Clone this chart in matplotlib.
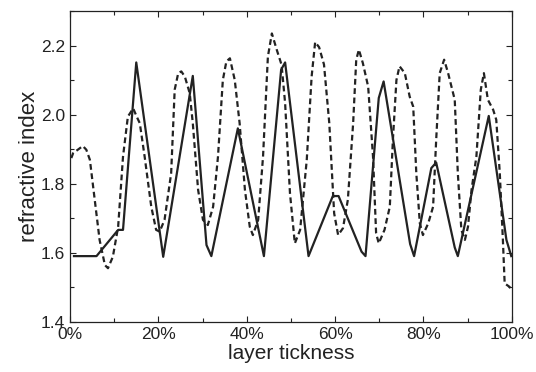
import matplotlib
matplotlib.use('Agg')
import matplotlib.pyplot as plt
from matplotlib.ticker import MultipleLocator, PercentFormatter

# solid line: layer position (%) and refractive index
x_solid = [0.9, 6.0, 10.9, 12.0, 15.0, 21.1, 27.8, 30.9, 32.0, 38.0, 43.9, 47.8, 48.7,
           54.0, 59.5, 60.8, 66.0, 66.9, 69.9, 71.0, 77.0, 77.9, 81.8, 82.9, 87.1, 87.8,
           94.8, 98.8, 99.9]
n_solid = [1.59, 1.59, 1.666, 1.666, 2.151, 1.588, 2.112, 1.622, 1.59, 1.96, 1.59, 2.13, 2.151,
           1.59, 1.764, 1.764, 1.603, 1.59, 2.048, 2.096, 1.625, 1.59, 1.845, 1.861, 1.615, 1.59,
           1.996, 1.637, 1.59]

# dashed line
x_dash = [0.3, 0.7, 2.9, 3.7, 4.5, 5.6, 6.7, 7.9, 8.6, 9.7, 10.9, 12.0, 13.1, 14.3, 15.1,
          15.8, 16.9, 18.4, 19.5, 20.3, 21.4, 22.9, 23.7, 24.5, 25.2, 26.0, 27.1, 27.8,
          29.0, 30.1, 31.2, 32.4, 33.5, 34.6, 35.4, 36.2, 37.3, 38.4, 39.6, 40.7, 41.4,
          42.6, 43.7, 44.8, 45.7, 46.8, 47.9, 48.7, 49.8, 50.9, 52.1, 53.6, 54.7, 55.5,
          56.4, 57.5, 58.7, 59.8, 60.7, 61.8, 62.9, 64.1, 64.8, 65.4, 66.3, 67.5, 68.6,
          69.3, 69.9, 71.2, 72.4, 73.1, 73.9, 74.6, 75.8, 76.9, 77.7, 78.4, 79.2, 79.9,
          81.1, 82.2, 82.9, 83.7, 84.7, 85.6, 87.1, 87.8, 88.6, 89.4, 90.1, 90.9, 92.0,
          93.0, 93.7, 94.6, 95.8, 96.5, 97.3, 98.0, 98.4, 99.5, 100.0]
n_dash = [1.874, 1.888, 1.909, 1.898, 1.869, 1.753, 1.637, 1.564, 1.555, 1.588, 1.675, 1.878,
          1.994, 2.018, 1.994, 1.975, 1.878, 1.733, 1.666, 1.661, 1.695, 1.830, 2.072, 2.12,
          2.125, 2.110, 2.062, 1.975, 1.782, 1.695, 1.680, 1.733, 1.878, 2.1, 2.154, 2.163,
          2.1, 1.975, 1.782, 1.675, 1.651, 1.695, 1.878, 2.168, 2.235, 2.188, 2.144, 2.033,
          1.772, 1.627, 1.666, 1.869, 2.110, 2.21, 2.195, 2.145, 1.975, 1.714, 1.651, 1.671,
          1.753, 1.975, 2.159, 2.188, 2.149, 2.081, 1.878, 1.656, 1.627, 1.666, 1.733, 1.927,
          2.1, 2.14, 2.12, 2.052, 2.023, 1.830, 1.685, 1.651, 1.685, 1.733, 1.927, 2.12, 2.159,
          2.12, 2.043, 1.830, 1.666, 1.637, 1.675, 1.782, 1.878, 2.072, 2.12, 2.043, 2.014,
          1.985, 1.830, 1.637, 1.511, 1.501, 1.49]

plt.rcParams['font.family'] = ['Liberation Sans', 'DejaVu Sans']

fig = plt.figure(figsize=(5.36, 3.72), dpi=100)
ax = fig.add_axes([0.1306, 0.1352, 0.8241, 0.8352])

ink = '#222222'
ax.plot(x_dash, n_dash, color=ink, lw=1.6, linestyle=(0, (2.6, 1.6)))
ax.plot(x_solid, n_solid, color=ink, lw=1.6)

ax.set_xlim(0, 100)
ax.set_ylim(1.4, 2.3)
ax.xaxis.set_major_locator(MultipleLocator(20))
ax.xaxis.set_minor_locator(MultipleLocator(10))
ax.xaxis.set_major_formatter(PercentFormatter(xmax=100, decimals=0))
ax.yaxis.set_major_locator(MultipleLocator(0.2))
ax.yaxis.set_minor_locator(MultipleLocator(0.1))

ax.tick_params(which='both', direction='in', top=True, right=True, colors=ink,
               labelsize=12.5, width=0.8)
ax.tick_params(which='major', length=4.3, pad=3.5)
ax.tick_params(which='minor', length=2.6)
for s in ax.spines.values():
    s.set_linewidth(0.9)
    s.set_color(ink)

ax.set_xlabel('layer tickness', fontsize=15, color=ink, labelpad=2)
ax.set_ylabel('refractive index', fontsize=16, color=ink, labelpad=1)

fig.savefig('out.png', dpi=100)
